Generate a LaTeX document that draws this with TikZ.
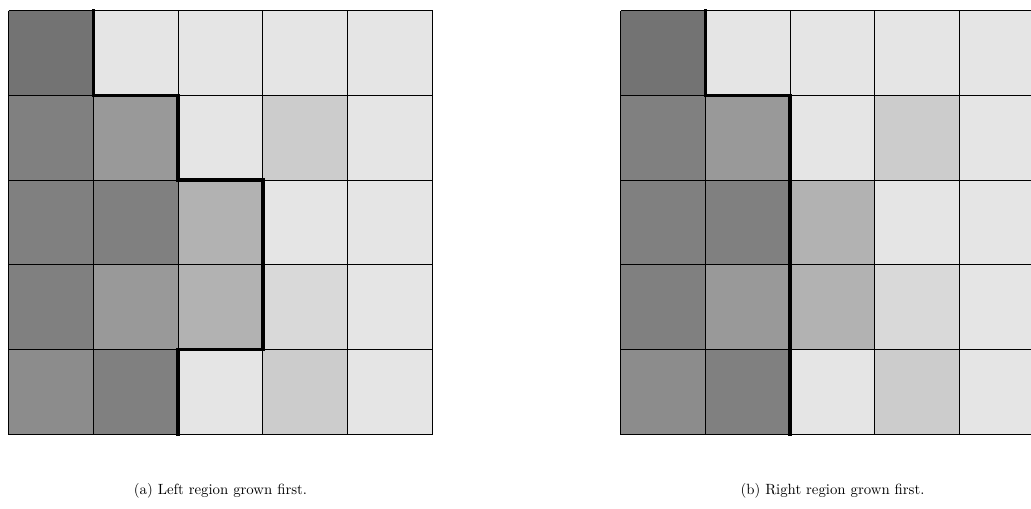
\documentclass[tikz,border=0pt]{standalone}
\usetikzlibrary{calc}
\begin{document}
\begin{tikzpicture}[x=0.6757pt,y=-0.6757pt,
  gridline/.style={draw=black,line width=0.75pt},
  borderline/.style={draw=black,line width=2.3pt,line cap=rect,line join=miter},
  caption/.style={font=\normalsize,anchor=center,inner sep=0pt}]
\useasboundingbox (0,0) rectangle (1031,508);
\clip (0,0) rectangle (1031,508);
% gray levels of the 5x5 cells, row by row from the top
\def\cells{%
  {55,10,10,10,10},
  {50,40,10,20,10},
  {50,50,30,10,10},
  {50,40,30,15,10},
  {45,50,10,20,10}}
\def\cs{84.8}
\foreach \gx/\nm in {8.5/L,620.5/R}{
  \foreach \row [count=\r from 0] in \cells {
    \foreach \g [count=\c from 0] in \row {
      \fill[black!\g] (\gx+\c*\cs,10.5+\r*\cs) rectangle ++(\cs,\cs);
    }
  }
  \foreach \i in {0,...,5}{
    \draw[gridline] (\gx+\i*\cs,10.5) -- (\gx+\i*\cs,10.5+5*\cs);
    \draw[gridline] (\gx,10.5+\i*\cs) -- (\gx+5*\cs,10.5+\i*\cs);
  }
  \coordinate (\nm o) at (\gx,10.5);
}
% boundary between the grown regions
\draw[borderline] ($(Lo)+(\cs,0)$) -- ++(0,\cs) -- ++(\cs,0) -- ++(0,\cs)
  -- ++(\cs,0) -- ++(0,2*\cs) -- ++(-\cs,0) -- ++(0,\cs);
\draw[borderline] ($(Ro)+(\cs,0)$) -- ++(0,\cs) -- ++(\cs,0) -- ++(0,4*\cs);
\node[caption] (ca) at (220.5,491) {(a) Left region grown first.};
\node[caption] (cb) at (832.5,491) {(b) Right region grown first.};
\end{tikzpicture}
\end{document}
